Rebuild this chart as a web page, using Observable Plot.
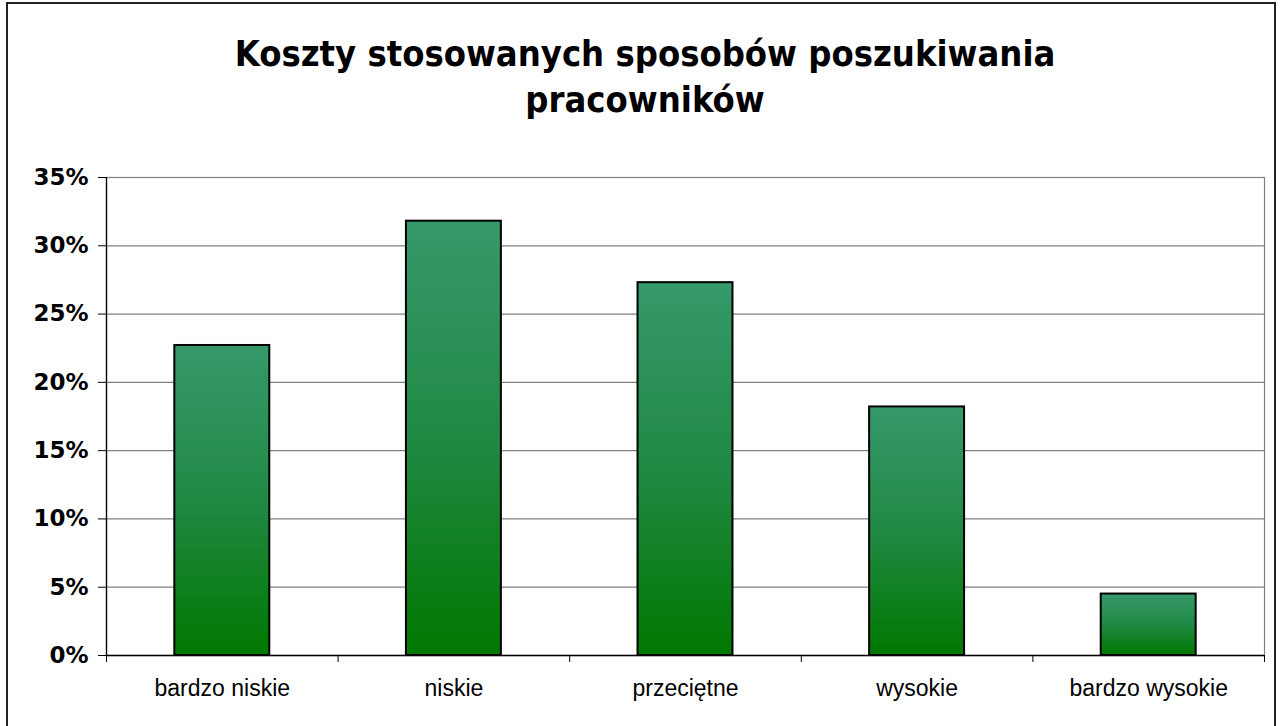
<!DOCTYPE html>
<html>
<head>
<meta charset="utf-8">
<script src="https://cdn.jsdelivr.net/npm/d3@7"></script>
<script src="https://cdn.jsdelivr.net/npm/@observablehq/plot@0.6"></script>
<style>
  html, body { margin: 0; padding: 0; background: #fff; }
  #wrap { position: relative; width: 1283px; height: 726px; overflow: hidden; background: #fff; }
  #border { position: absolute; left: 6px; top: 2px; width: 1270px; height: 740px; border: 2px solid #222; box-sizing: border-box; }
  #title { position: absolute; left: 7px; width: 1276px; top: 31px; text-align: center;
           font-family: "DejaVu Sans Condensed", "DejaVu Sans", sans-serif; font-weight: bold;
           font-size: 36px; line-height: 46px; color: #000; }
  #chart { position: absolute; left: 0; top: 0; }
</style>
</head>
<body>
<div id="wrap">
  <div id="chart"></div>
  <div id="border"></div>
  <div id="title">Koszty stosowanych sposobów poszukiwania<br>pracowników</div>
</div>
<script>
const categories = ["bardzo niskie", "niskie", "przeciętne", "wysokie", "bardzo wysokie"];
const values = [22.7, 31.8, 27.3, 18.2, 4.5];
const yTicks = [0, 5, 10, 15, 20, 25, 30, 35];

const W = 1283, H = 726;
const mLeft = 106, mRight = 19, mTop = 177, mBottom = 71;
const step = (W - mLeft - mRight) / categories.length;

const data = categories.map((c, i) => ({category: c, value: values[i]}));

const plot = Plot.plot({
  width: W,
  height: H,
  marginLeft: mLeft,
  marginRight: mRight,
  marginTop: mTop,
  marginBottom: mBottom,
  style: {background: "transparent", color: "#000"},
  x: {type: "band", domain: categories, paddingInner: 0.59, paddingOuter: 0.295, round: false, label: null},
  y: {domain: [0, 35], label: null},
  marks: [
    Plot.gridY(yTicks, {stroke: "#808080", strokeOpacity: 1, strokeWidth: 1.2}),
    Plot.frame({stroke: "#808080", strokeWidth: 1.2}),
    Plot.barY(data, {x: "category", y: "value", fill: "url(#barGrad)", stroke: "#000", strokeWidth: 2}),
    Plot.gridX([categories[0]], {dx: -step / 2, stroke: "#000", strokeOpacity: 1, strokeWidth: 1.3}),
    Plot.ruleY([0], {stroke: "#000", strokeWidth: 1.5}),
    Plot.axisY({ticks: yTicks, tickSize: 8, tickPadding: 10, tickFormat: d => d + "%",
      fontSize: 23, fontWeight: "bold", fontFamily: "DejaVu Sans, sans-serif", stroke: "#000", fill: "#000"}),
    Plot.axisX({ticks: categories, tickSize: 7, dx: -step / 2, tickFormat: () => "", stroke: "#000"}),
    Plot.axisX({ticks: [categories[categories.length - 1]], tickSize: 7, dx: step / 2, tickFormat: () => "", stroke: "#000"}),
    Plot.axisX({ticks: categories, tickSize: 0, tickPadding: 24, fontSize: 23,
      fontFamily: "Liberation Sans, Arial, sans-serif", fill: "#000"})
  ]
});

d3.select(plot).insert("defs", ":first-child").html(
  '<linearGradient id="barGrad" x1="0" y1="0" x2="0" y2="1">' +
  '<stop offset="0" stop-color="#36996b"/>' +
  '<stop offset="0.5" stop-color="#208944"/>' +
  '<stop offset="1" stop-color="#007800"/>' +
  '</linearGradient>'
);

document.getElementById("chart").appendChild(plot);
</script>
</body>
</html>
